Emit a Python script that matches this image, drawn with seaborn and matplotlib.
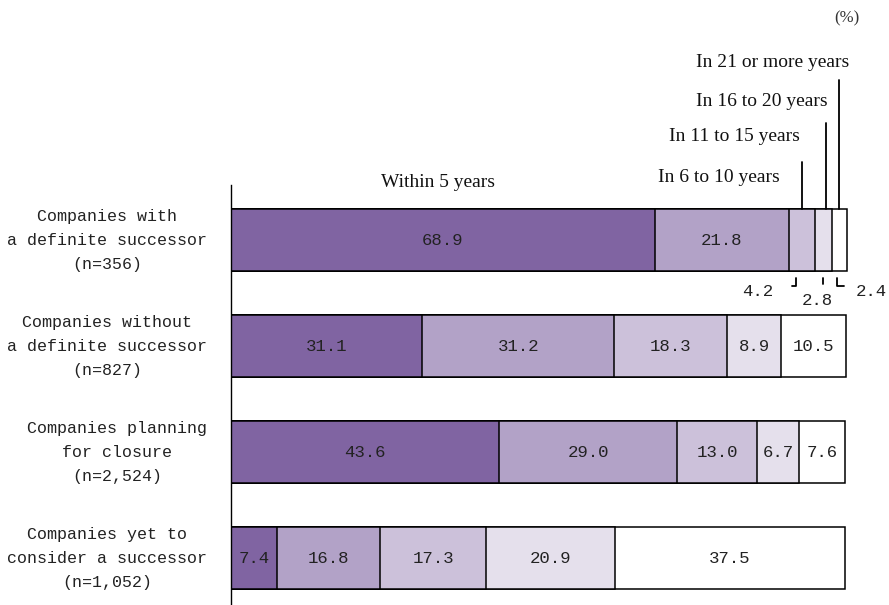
"""
Stacked horizontal bars: expected timing of business succession / closure
"""

import numpy as np
import pandas as pd
import matplotlib
matplotlib.use('Agg')
import matplotlib.pyplot as plt
import seaborn as sns

sns.set_theme(style='white')

# Data
categories = [
    'Companies with\na definite successor\n(n=356)',
    'Companies without\na definite successor\n(n=827)',
    'Companies planning\nfor closure\n(n=2,524)',
    'Companies yet to\nconsider a successor\n(n=1,052)',
]
periods = ['Within 5 years', 'In 6 to 10 years', 'In 11 to 15 years',
           'In 16 to 20 years', 'In 21 or more years']
within_5 = [68.9, 31.1, 43.6, 7.4]
years_6_10 = [21.8, 31.2, 29.0, 16.8]
years_11_15 = [4.2, 18.3, 13.0, 17.3]
years_16_20 = [2.8, 8.9, 6.7, 20.9]
years_21_plus = [2.4, 10.5, 7.6, 37.5]

colors = ['#8064A2', '#B2A2C7', '#CCC1DA', '#E5E0EC', '#FFFFFF']

df = pd.DataFrame({
    'category': categories,
    periods[0]: within_5,
    periods[1]: years_6_10,
    periods[2]: years_11_15,
    periods[3]: years_16_20,
    periods[4]: years_21_plus,
})
values = df[periods].to_numpy()
cum = values.cumsum(axis=1)
lefts = cum - values

bar_h = 0.585
mono = 'Liberation Mono'
serif = 'Liberation Serif'
xmax = 101.0

fig = plt.figure(figsize=(8.89, 6.05), dpi=100)
ax = fig.add_axes([231 / 889, 0.0, 6.15 * xmax / 889, 420 / 605])

# Draw stacked bars as overlapping cumulative bars (largest first)
for k in reversed(range(len(periods))):
    sns.barplot(x=cum[:, k], y=df['category'], orient='y', color=colors[k],
                saturation=1, edgecolor='black', linewidth=1.1, width=bar_h,
                ax=ax)

ax.set_xlim(0, xmax)
ax.set_ylim(3.443, -0.519)
ax.set_xlabel('')
ax.set_ylabel('')
ax.set_xticks([])
for s in ['top', 'right', 'bottom']:
    ax.spines[s].set_visible(False)
ax.spines['left'].set_color('black')
ax.spines['left'].set_linewidth(1.0)
ax.tick_params(axis='y', length=0, pad=17)
for lab in ax.get_yticklabels():
    lab.set_fontfamily(mono)
    lab.set_fontsize(12)
    lab.set_ha('right')
    lab.set_va('center')
    lab.set_multialignment('center')
    lab.set_linespacing(1.75)
    lab.set_color('#222222')

# Values inside bars (first row small segments are labelled outside)
for i in range(len(categories)):
    for k in range(len(periods)):
        if i == 0 and k >= 2:
            continue
        xc = lefts[i, k] + values[i, k] / 2
        ax.text(xc, i, f'{values[i, k]:.1f}', ha='center', va='center',
                fontsize=12.5, family=mono, color='#222222')

# Outside labels for first row small segments
c0 = lefts[0] + values[0] / 2
top = -bar_h / 2
bot = bar_h / 2
lw = 1.3
# 4.2
ax.plot([c0[2] - 1.0, c0[2] - 1.0, c0[2] - 1.6], [bot + 0.065, bot + 0.14, bot + 0.14],
        color='black', lw=lw, clip_on=False)
ax.text(c0[2] - 7.1, 0.49, f'{values[0, 2]:.1f}', ha='center', va='center',
        fontsize=12.5, family=mono, color='#222222')
# 2.8
ax.plot([c0[3], c0[3]], [bot + 0.065, bot + 0.125], color='black', lw=lw, clip_on=False)
ax.text(c0[3] - 0.9, 0.57, f'{values[0, 3]:.1f}', ha='center', va='center',
        fontsize=12.5, family=mono, color='#222222')
# 2.4
ax.plot([c0[4] - 0.4, c0[4] - 0.4, c0[4] + 0.8], [bot + 0.065, bot + 0.14, bot + 0.14],
        color='black', lw=lw, clip_on=False)
ax.text(c0[4] + 5.2, 0.49, f'{values[0, 4]:.1f}', ha='center', va='center',
        fontsize=12.5, family=mono, color='#222222')

# Leader lines above first row
ax.plot([c0[2], c0[2]], [-0.736, top], color='black', lw=lw, clip_on=False)
ax.plot([c0[3] + 0.4, c0[3] + 0.4], [-1.104, top], color='black', lw=lw, clip_on=False)
ax.plot([c0[4], c0[4]], [-1.509, top], color='black', lw=lw, clip_on=False)

# Period labels
label_pos = [(33.7, -0.547), (79.3, -0.594), (81.9, -0.972),
             (86.3, -1.302), (88.1, -1.67)]
for name, (xp, yp) in zip(periods, label_pos):
    ax.text(xp, yp, name, ha='center', va='center', fontsize=14,
            family=serif, color='#111111', clip_on=False)

ax.text(100.2, -2.094, '(%)', ha='center', va='center', fontsize=12,
        family=serif, color='#333333', clip_on=False)

plt.savefig('out.png', dpi=100)
